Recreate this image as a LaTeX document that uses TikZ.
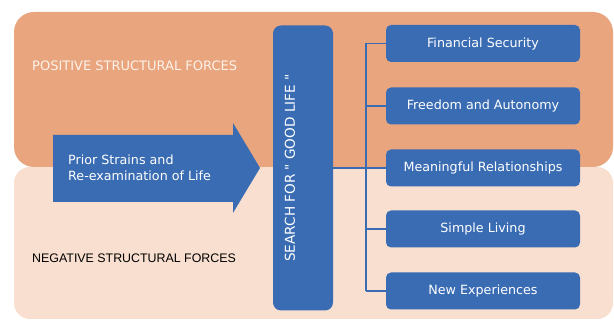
\documentclass[tikz,border=0pt]{standalone}
\usepackage{fontspec}
\setmainfont{DejaVu Sans}
\newfontfamily\arialfont{Liberation Sans}
\usepackage{tikz}
\definecolor{panelOrange}{HTML}{E9A57D}
\definecolor{panelPeach}{HTML}{F9DFCF}
\definecolor{boxBlue}{HTML}{3A6CB4}
\definecolor{softWhite}{HTML}{FDF2EA}

\begin{document}
\begin{tikzpicture} [x=1pt, y=-1pt,
    goalNode/.style={rectangle, rounded corners=5pt, fill=boxBlue, text=white, inner sep=0pt, minimum width=194pt, minimum height=37pt, font=\fontsize{12.7}{14}\selectfont},
    forceLabel/.style={anchor=west, inner sep=0pt, font=\fontsize{13}{15}\selectfont},
    branch/.style={line width=1.2pt, draw=boxBlue}
]
    \useasboundingbox (0,0) rectangle (614,320);

    % background panels
    \fill[panelPeach, rounded corners=16pt] (14,167) rectangle (613,319);
    \fill[panelOrange, rounded corners=20pt] (14,12) rectangle (613,167);

    \node[forceLabel, text=softWhite] (pos) at (32,66) {POSITIVE STRUCTURAL FORCES};
    \node[forceLabel, font=\arialfont\fontsize{12.4}{14}\selectfont] (neg) at (32,258) {NEGATIVE STRUCTURAL FORCES};

    % big arrow
    \fill[boxBlue] (53,135) -- (233,135) -- (233,123) -- (260,168) -- (233,213) -- (233,202) -- (53,202) -- cycle;
    \node[anchor=west, align=left, text=white, inner sep=0pt, font=\fontsize{12.7}{16.5}\selectfont] (prior) at (68,168) {Prior Strains and\\Re-examination of Life};

    % search box
    \node[fill=boxBlue, rounded corners=8pt, inner sep=0pt, minimum width=60pt, minimum height=285pt] (search) at (303,168) {};
    \node[rotate=90, text=white, inner sep=0pt, font=\fontsize{13.6}{15}\selectfont] (searchLabel) at (290,168) {SEARCH FOR \textquotedbl\ GOOD LIFE \textquotedbl};

    % goals
    \node[goalNode] (fin) at (483,43.5) {Financial Security};
    \node[goalNode] (free) at (483,106) {Freedom and Autonomy};
    \node[goalNode] (rel) at (483,168) {Meaningful Relationships};
    \node[goalNode] (simple) at (483,229) {Simple Living};
    \node[goalNode] (newExp) at (483,291) {New Experiences};

    \coordinate (trunk) at (366,168);
    \draw [line width=2pt, draw=boxBlue] (search) -- (trunk);
    \draw [branch] (trunk |- fin) -- (trunk |- newExp);
    \draw [branch] (trunk |- fin) -- (fin);
    \draw [branch] (trunk |- free) -- (free);
    \draw [branch] (trunk |- rel) -- (rel);
    \draw [branch] (trunk |- simple) -- (simple);
    \draw [branch] (trunk |- newExp) -- (newExp);
\end{tikzpicture}
\end{document}
